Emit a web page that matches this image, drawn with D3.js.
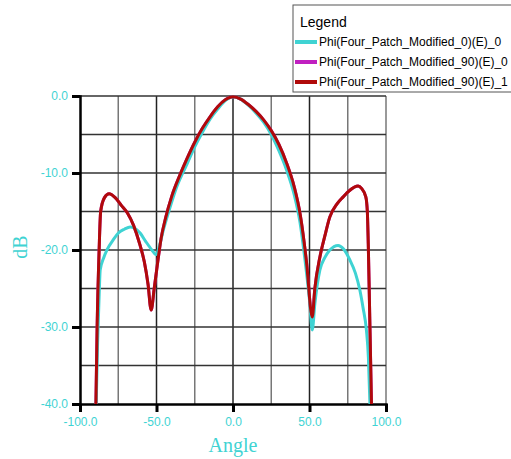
<!DOCTYPE html>
<html>
<head>
<meta charset="utf-8">
<script src="https://cdn.jsdelivr.net/npm/d3@7"></script>
<style>
  body { margin: 0; background: #fff; }
  svg { display: block; }
</style>
</head>
<body>
<svg id="chart" width="511" height="459"></svg>
<script>
// series
const seriesNames = [
  "Phi(Four_Patch_Modified_0)(E)_0",
  "Phi(Four_Patch_Modified_90)(E)_0",
  "Phi(Four_Patch_Modified_90)(E)_1"
];

const angle0 = [-89.4, -88.5, -87.5, -86.8, -84.5, -82.4, -78, -74.9, -71, -67.2, -64, -60.7, -57, -53, -50.3, -48, -45.5, -42, -36.8, -30, -25, -20, -15, -10, -5, 0, 5, 10, 15, 20, 25, 30, 35, 40, 43.7, 47, 50, 51.8, 53.5, 56.8, 60, 63.3, 68.7, 72, 76.4, 80, 82.9, 85, 87.2, 88.5, 89.5];
const db0 = [-40, -32, -26, -22.6, -21, -20, -18.6, -17.8, -17.3, -17.0, -17.2, -17.8, -18.9, -20, -20.6, -19.4, -17.4, -15.0, -11.8, -8.8, -6.6, -4.7, -3.0, -1.7, -0.6, -0.1, -0.4, -1.2, -2.2, -3.4, -5.0, -7.1, -9.6, -12.8, -16.3, -21.2, -26.5, -30.4, -27, -22.6, -21, -20, -19.4, -19.8, -21.3, -23, -25.2, -27.5, -30.4, -34, -40];

const angle1 = [-89.6, -88.8, -87.5, -86.5, -84, -81, -77, -73, -69, -65, -61, -58, -55.5, -53.5, -51.5, -49.5, -47, -44, -40, -35, -30, -25, -20, -15, -10, -5, 0, 5, 10, 15, 20, 25, 30, 35, 40, 44, 48, 51.8, 53.5, 56.8, 60, 63.3, 68, 72, 76, 81.8, 84, 86.8, 87.8, 88.5, 89.5, 90.5];
const db1 = [-40, -30, -20, -15, -13.2, -12.7, -13.2, -14.2, -15.2, -16.8, -19.2, -21.5, -24.5, -27.8, -25, -22, -18.5, -15.8, -13, -10.4, -8.1, -6.0, -4.2, -2.7, -1.4, -0.5, -0.1, -0.4, -1.1, -2.0, -3.1, -4.5, -6.3, -8.7, -11.8, -15.5, -21.5, -28.7, -25, -20.9, -18.2, -15.7, -14, -13.1, -12.3, -11.7, -12.0, -13.1, -15, -20, -30, -40];

const xTicks = [-100, -50, 0, 50, 100];
const yTicks = [0, -10, -20, -30, -40];
const xGridMinor = [-75, -25, 25, 75, 100];
const xGridMajor = [-50, 0, 50];
const yGrid = [0, -5, -10, -15, -20, -25, -30, -35];

const CYAN = "#3fd3d3";
const RED = "#b00a0a";
const MAGENTA = "#c020c0";

const svg = d3.select("#chart");
const margin = { left: 80, right: 386, top: 96, bottom: 404 };

const x = d3.scaleLinear().domain([-100, 100]).range([margin.left, margin.right]);
const y = d3.scaleLinear().domain([-40, 0]).range([margin.bottom, margin.top]);

// grid
svg.append("g").selectAll("line").data(xGridMinor).join("line")
  .attr("x1", d => x(d)).attr("x2", d => x(d))
  .attr("y1", y(0)).attr("y2", y(-40))
  .attr("stroke", "#777").attr("stroke-width", 1.5);
svg.append("g").selectAll("line").data(xGridMajor).join("line")
  .attr("x1", d => x(d)).attr("x2", d => x(d))
  .attr("y1", y(0)).attr("y2", y(-40))
  .attr("stroke", "#222").attr("stroke-width", 1.5);
svg.append("g").selectAll("line").data(yGrid).join("line")
  .attr("x1", x(-100)).attr("x2", x(100))
  .attr("y1", d => y(d)).attr("y2", d => y(d))
  .attr("stroke", "#333").attr("stroke-width", 1.5);

// axes
const fmt = d => d.toFixed(1);
const xAxis = d3.axisBottom(x).tickValues(xTicks).tickSize(8).tickFormat(fmt);
const yAxis = d3.axisLeft(y).tickValues(yTicks).tickSize(8).tickFormat(fmt);

const gx = svg.append("g").attr("transform", `translate(0,${margin.bottom})`).call(xAxis);
const gy = svg.append("g").attr("transform", `translate(${margin.left},0)`).call(yAxis);

[gx, gy].forEach(g => {
  g.select(".domain").attr("stroke", "#000").attr("stroke-width", 2.5);
  g.selectAll(".tick line").attr("stroke", "#000").attr("stroke-width", 3);
  g.selectAll(".tick text")
    .attr("fill", CYAN)
    .style("font-family", "Liberation Sans, Arial, sans-serif")
    .style("font-size", "12px");
});
gx.selectAll(".tick text").attr("dy", "0.95em");
gy.selectAll(".tick text").attr("dx", "-1px");

// axis titles
svg.append("text")
  .attr("x", x(0)).attr("y", 452)
  .attr("text-anchor", "middle")
  .attr("fill", CYAN)
  .style("font-family", "Liberation Serif, Times New Roman, serif")
  .style("font-size", "20px")
  .text("Angle");
svg.append("text")
  .attr("transform", "translate(27,247) rotate(-90)")
  .attr("text-anchor", "middle")
  .attr("fill", CYAN)
  .style("font-family", "Liberation Serif, Times New Roman, serif")
  .style("font-size", "20px")
  .text("dB");

// curves
const line = d3.line()
  .x(d => x(d[0]))
  .y(d => y(d[1]))
  .curve(d3.curveMonotoneX);

const series = [
  { name: seriesNames[1], color: MAGENTA, pts: d3.zip(angle1, db1) },
  { name: seriesNames[0], color: CYAN, pts: d3.zip(angle0, db0) },
  { name: seriesNames[2], color: RED, pts: d3.zip(angle1, db1) }
];

svg.append("g").selectAll("path").data(series).join("path")
  .attr("d", d => line(d.pts))
  .attr("fill", "none")
  .attr("stroke", d => d.color)
  .attr("stroke-width", 3)
  .attr("stroke-linejoin", "round");

// legend
const legend = svg.append("g").attr("transform", "translate(293,5)");
legend.append("rect")
  .attr("width", 240).attr("height", 87)
  .attr("fill", "#fff").attr("stroke", "#555");
legend.append("text")
  .attr("x", 7).attr("y", 22)
  .style("font-family", "Liberation Sans, Arial, sans-serif")
  .style("font-size", "14px")
  .text("Legend");

const legendColors = [CYAN, MAGENTA, RED];
const items = legend.selectAll("g.item").data(seriesNames).join("g")
  .attr("class", "item")
  .attr("transform", (d, i) => `translate(0,${37 + i * 20})`);
items.append("line")
  .attr("x1", 2).attr("x2", 24)
  .attr("stroke", (d, i) => legendColors[i])
  .attr("stroke-width", 4);
items.append("text")
  .attr("x", 26).attr("y", 4)
  .style("font-family", "Liberation Sans, Arial, sans-serif")
  .style("font-size", "12px")
  .text(d => d);
</script>
</body>
</html>
